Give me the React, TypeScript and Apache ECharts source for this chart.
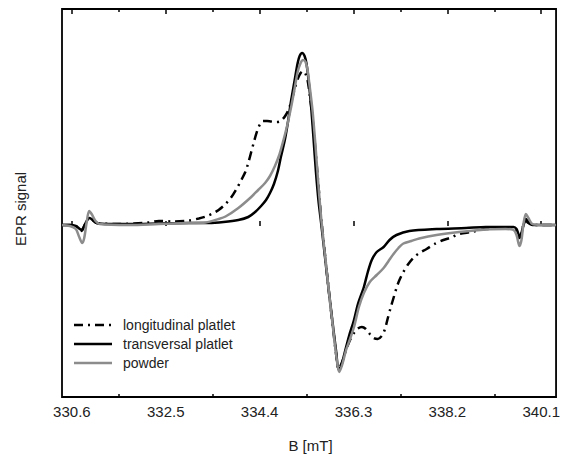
import React, { useEffect, useRef } from "react";
import * as echarts from "echarts";

// Magnetic field B [mT] vs EPR signal (arbitrary units)
const longitudinal: number[][] = [
  [330.40, 1], [330.56, 1], [330.68, 0], [330.76, -3], [330.80, -5], [330.84, -1], [330.90, 5], [330.96, 9],
  [331.02, 6], [331.10, 3], [331.56, 2], [332.16, 3.5], [332.36, 5], [332.66, 4.5], [332.97, 5.5], [333.17, 7.5],
  [333.31, 9.5], [333.45, 12.5], [333.57, 16], [333.71, 22], [333.83, 29], [333.93, 37], [334.03, 46], [334.11, 54],
  [334.17, 63], [334.23, 74], [334.29, 85], [334.35, 95], [334.41, 102], [334.47, 105], [334.55, 105], [334.63, 104.5],
  [334.73, 104], [334.81, 104.5], [334.87, 107], [334.93, 111], [334.99, 117], [335.05, 126], [335.11, 137], [335.17, 147],
  [335.23, 153], [335.28, 155], [335.33, 152], [335.37, 146], [335.42, 129], [335.47, 108], [335.53, 76], [335.59, 41],
  [335.65, 6], [335.73, -32], [335.81, -69], [335.89, -104], [335.95, -129], [336.00, -143], [336.07, -136], [336.15, -124],
  [336.23, -114], [336.31, -107], [336.39, -102.5], [336.47, -101], [336.55, -103], [336.63, -108], [336.71, -112], [336.79, -113],
  [336.87, -110], [336.93, -104], [336.99, -93], [337.05, -82], [337.11, -72], [337.17, -62], [337.23, -54], [337.31, -46],
  [337.41, -38], [337.51, -32], [337.63, -27], [337.78, -23], [337.94, -18], [338.12, -14], [338.28, -11.5], [338.44, -8],
  [338.68, -6], [338.98, -3], [339.38, -2], [339.54, -2.5], [339.60, -5], [339.66, -12], [339.70, -8], [339.74, 1],
  [339.79, 7], [339.84, 4], [339.92, 1], [340.08, 1], [340.40, 1],
];

const transversal: number[][] = [
  [330.40, 1], [330.56, 1], [330.68, 0], [330.76, -3], [330.80, -4], [330.84, -1], [330.90, 5], [330.96, 8],
  [331.02, 6], [331.10, 3], [331.36, 2], [331.76, 2], [332.36, 2.5], [332.97, 3], [333.37, 3], [333.67, 4],
  [333.97, 6], [334.17, 9], [334.31, 14], [334.43, 20], [334.53, 26], [334.61, 33], [334.69, 42], [334.77, 55],
  [334.83, 69], [334.91, 86], [334.97, 103], [335.03, 123], [335.11, 146], [335.17, 163], [335.21, 170], [335.26, 173],
  [335.31, 170], [335.35, 162], [335.39, 146], [335.44, 121], [335.49, 88], [335.54, 54], [335.59, 26], [335.65, 1],
  [335.73, -34], [335.81, -69], [335.89, -102], [335.95, -126], [336.00, -144], [336.05, -140], [336.13, -125], [336.21, -110],
  [336.31, -94], [336.39, -78], [336.51, -61], [336.59, -46], [336.67, -34], [336.77, -26], [336.91, -21], [337.03, -14],
  [337.17, -9], [337.43, -5], [337.98, -3], [338.58, -2], [338.98, -1], [339.38, -1], [339.54, -1], [339.60, -3],
  [339.66, -10], [339.70, -7], [339.74, 1], [339.79, 5], [339.84, 3], [339.92, 1], [340.08, 1], [340.40, 1],
];

const powder: number[][] = [
  [330.40, 1], [330.56, 0], [330.68, -3], [330.74, -10], [330.81, -17], [330.85, -12], [330.90, 4], [330.95, 15],
  [331.00, 12], [331.08, 5], [331.16, 2], [331.76, 1], [332.36, 2], [332.97, 3], [333.31, 3.5], [333.57, 7],
  [333.71, 9.5], [333.97, 18], [334.23, 29], [334.37, 36], [334.51, 43], [334.61, 50], [334.71, 60], [334.79, 70],
  [334.85, 80], [334.91, 91], [334.97, 103], [335.05, 122], [335.11, 138], [335.17, 154], [335.23, 163], [335.28, 166],
  [335.33, 164], [335.37, 156], [335.41, 141], [335.47, 116], [335.53, 81], [335.59, 41], [335.65, 6], [335.73, -32],
  [335.81, -69], [335.89, -104], [335.95, -129], [336.01, -146], [336.07, -139], [336.15, -124], [336.23, -113], [336.31, -101],
  [336.41, -81], [336.51, -67], [336.63, -56], [336.77, -49], [336.91, -42], [337.01, -35], [337.11, -28], [337.21, -22],
  [337.31, -17.5], [337.47, -15], [337.63, -12.5], [337.98, -9], [338.44, -6], [338.98, -3.5], [339.38, -3], [339.54, -4],
  [339.60, -9], [339.66, -20], [339.70, -14], [339.74, 2], [339.79, 12], [339.84, 8], [339.92, 2], [340.08, 1], [340.40, 1],
];

const majorTicks = [330.6, 332.5, 334.4, 336.3, 338.2, 340.1];
const minorTicks = [331.55, 333.45, 335.35, 337.25, 339.15];
const seriesNames = ["longitudinal platlet", "transversal platlet", "powder"];

const X_MIN = 330.4;
const X_MAX = 340.4;
const Y_MIN = -171;
const Y_MAX = 217;

const FONT = "'Liberation Sans', Arial, sans-serif";
const COLORS = ["#000000", "#000000", "#8c8c8c"];
const DASHES: (number[] | null)[] = [[9, 5, 2, 5], null, null];

export default function App() {
  const ref = useRef<HTMLDivElement>(null);

  useEffect(() => {
    if (!ref.current) return;
    const chart = echarts.init(ref.current, undefined, { renderer: "svg" });

    const mkAxis = (position: string, ticks: number[], len: number, labels: boolean) => ({
      type: "value",
      position,
      min: X_MIN,
      max: X_MAX,
      axisLine: { show: false },
      splitLine: { show: false },
      axisTick: {
        show: true,
        inside: true,
        length: len,
        customValues: ticks,
        lineStyle: { color: "#000", width: 1.5 },
      },
      axisLabel: labels
        ? {
            show: true,
            customValues: ticks,
            margin: 7,
            fontSize: 15,
            fontFamily: FONT,
            color: "#222",
            formatter: (v: number) => v.toFixed(1),
          }
        : { show: false },
    });

    const datas = [longitudinal, transversal, powder];

    const legendGraphics: any[] = [];
    const rowY = [325, 344, 363];
    seriesNames.forEach((name, i) => {
      legendGraphics.push({
        type: "line",
        shape: { x1: 74, y1: rowY[i], x2: 112, y2: rowY[i] },
        style: {
          stroke: COLORS[i],
          lineWidth: 2.5,
          lineDash: DASHES[i] || undefined,
        },
      });
      legendGraphics.push({
        type: "text",
        x: 123,
        y: rowY[i],
        style: {
          text: name,
          fontSize: 14,
          fontFamily: FONT,
          fill: "#222",
          align: "left",
          verticalAlign: "middle",
        },
      });
    });

    chart.setOption({
      animation: false,
      grid: {
        left: 62,
        right: 2,
        top: 9,
        bottom: 58,
        show: true,
        borderColor: "#000",
        borderWidth: 1.8,
        backgroundColor: "transparent",
      },
      xAxis: [
        mkAxis("bottom", majorTicks, 5, true),
        mkAxis("bottom", minorTicks, 3, false),
        mkAxis("top", majorTicks, 5, false),
        mkAxis("top", minorTicks, 3, false),
      ],
      yAxis: {
        type: "value",
        min: Y_MIN,
        max: Y_MAX,
        axisLine: { show: false },
        axisTick: { show: false },
        axisLabel: { show: false },
        splitLine: { show: false },
      },
      graphic: [
        {
          type: "text",
          x: 20,
          y: 209,
          rotation: Math.PI / 2,
          style: {
            text: "EPR signal",
            fontSize: 15,
            fontFamily: FONT,
            fill: "#222",
            align: "center",
            verticalAlign: "middle",
          },
        },
        {
          type: "text",
          x: 310.5,
          y: 445,
          style: {
            text: "B [mT]",
            fontSize: 15,
            fontFamily: FONT,
            fill: "#222",
            align: "center",
            verticalAlign: "middle",
          },
        },
        ...legendGraphics,
      ],
      series: seriesNames.map((name, i) => ({
        name,
        type: "line",
        xAxisIndex: 0,
        data: datas[i],
        symbol: "none",
        smooth: 0.3,
        lineStyle: { color: COLORS[i], width: 2.5, type: DASHES[i] || "solid" },
        itemStyle: { color: COLORS[i] },
        z: 2 + i,
      })),
    });

    return () => chart.dispose();
  }, []);

  return (
    <div
      ref={ref}
      style={{ position: "absolute", left: 0, top: 0, width: 563, height: 455 }}
    />
  );
}
